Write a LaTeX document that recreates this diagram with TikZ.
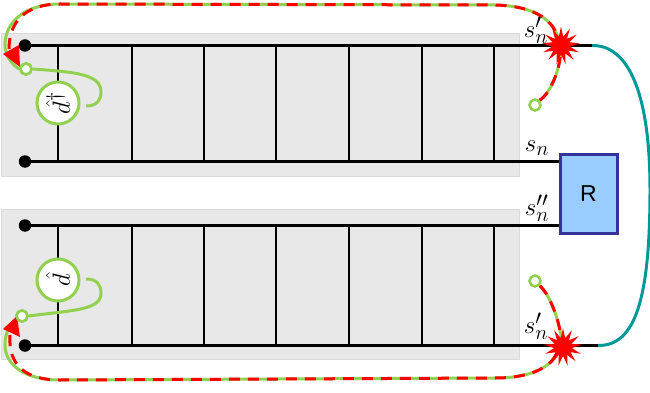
\documentclass[tikz,border=0pt]{standalone}
\usepackage{fontspec}
\usetikzlibrary{shapes.geometric}
\newfontfamily\rfont{Liberation Sans}
\definecolor{panelgray}{HTML}{E8E8E8}
\definecolor{panelline}{HTML}{DADADA}
\definecolor{lgreen}{HTML}{92D050}
\definecolor{rteal}{HTML}{009999}
\definecolor{rfill}{HTML}{99CCFF}
\definecolor{rline}{HTML}{333399}
\tikzset{
  x=1pt,y=-1pt,
  panel/.style={fill=panelgray,draw=panelline,line width=1pt},
  rail/.style={line width=2.7pt,black},
  dotend/.style={circle,fill=black,inner sep=0pt,minimum size=12.5pt},
  opcircle/.style={circle,draw=lgreen,fill=white,line width=3pt,minimum size=42pt,inner sep=0pt},
  smallring/.style={circle,draw=lgreen,fill=white,line width=2.6pt,minimum size=11pt,inner sep=0pt},
  gline/.style={draw=lgreen,line width=3pt},
  rdash/.style={draw=red,line width=3pt,dash pattern=on 11pt off 8pt},
  burst/.style={star,star points=13,star point ratio=2.1,fill=red,draw=none,minimum size=38pt,inner sep=0pt},
  slabel/.style={inner sep=0pt,font=\fontsize{24.88}{28}\selectfont},
  tealline/.style={draw=rteal,line width=3pt},
  redtip/.style={fill=red,draw=none}
}
\begin{document}
\begin{tikzpicture}
\useasboundingbox (0,0) rectangle (650,393);
\draw[panel] (1.5,33.5) rectangle (519.5,176.5);
\draw[panel] (1.5,209.5) rectangle (519.5,359.5);
\node[dotend] (a1) at (25,45.5) {};
\node[dotend] (a2) at (25,161.5) {};
\node[dotend] (b1) at (25,225.5) {};
\node[dotend] (b2) at (25,345.5) {};
\coordinate (a1e) at (592,45.5);
\coordinate (b2e) at (598,345.5);
\node[draw=rline,fill=rfill,line width=3pt,minimum width=57pt,minimum height=79pt,inner sep=0pt,font=\rfont\fontsize{23}{26}\selectfont] (R) at (588.5,193.5) {R};
\draw[rail] (a1.center) -- (a1e);
\draw[rail] (a2.center) -- (a2.center -| R.west);
\draw[rail] (b1.center) -- (b1.center -| R.west);
\draw[rail] (b2.center) -- (b2e);
\foreach \x in {58,132,204,276,349,422,494}{
  \draw[rail] (\x,45.5) -- (\x,161.5);
  \draw[rail] (\x,225.5) -- (\x,345.5);
}
\draw[tealline] (a1e) .. controls (625,45) and (650,85) .. (650,190)
  .. controls (650,300) and (635,346) .. (b2e);
\node[opcircle] (dtop) at (58,103) {\rotatebox{90}{\fontsize{24.88}{28}\selectfont$\hat d^{\dagger}$}};
\node[opcircle] (dbot) at (58,280) {\rotatebox{90}{\fontsize{24.88}{28}\selectfont$\hat d$}};
\node[smallring] (rt) at (26,69) {};
\node[smallring] (rb) at (22,316) {};
\node[smallring] (ru) at (535,105) {};
\node[smallring] (rl) at (535,281) {};
\coordinate (outt) at (86,106);
\coordinate (outb) at (86,279);
\draw[gline] (outt) .. controls (97,106) and (101,100) .. (101,92)
  .. controls (101,74) and (75,72) .. (rt.east);
\draw[gline] (outb) .. controls (97,279) and (101,285) .. (101,293)
  .. controls (101,310) and (75,310) .. (rb.east);
\draw[gline] (ru.north east) .. controls (552,92) and (563,62) .. (560,45)
  .. controls (556,20) and (535,6) .. (495,5) -- (60,4)
  .. controls (25,4) and (5,22) .. (5,45) .. controls (5,55) and (12,65) .. (rt.west);
\draw[gline] (rl.south east) .. controls (552,297) and (560,325) .. (562,342)
  .. controls (556,368) and (530,378) .. (495,378) -- (60,380)
  .. controls (25,380) and (5,365) .. (5,345) .. controls (5,335) and (8,325) .. (rb.south west);
\draw[rdash] (ru.north east) .. controls (552,92) and (563,62) .. (560,45)
  .. controls (556,20) and (535,6) .. (495,5) -- (60,4)
  .. controls (25,4) and (8,22) .. (9,52);
\draw[rdash] (rl.south east) .. controls (552,297) and (560,325) .. (562,342)
  .. controls (556,368) and (530,378) .. (495,378) -- (60,380)
  .. controls (25,380) and (8,365) .. (10,335);
\fill[redtip] (3,54) -- (19,45) -- (20,67) -- cycle;
\fill[redtip] (3,329) -- (17,316) -- (20,337) -- cycle;
\node[smallring] at (rb) {};
\node[smallring] at (rt) {};
\node[burst] (s1) at (561,45.5) {};
\node[burst] (s2) at (563,347) {};
\node[slabel] (l1) at (536,30) {$s_n'$};
\node[slabel] (l2) at (537,148) {$s_n$};
\node[slabel] (l3) at (537,208) {$s_n''$};
\node[slabel] (l4) at (536,326) {$s_n'$};
\end{tikzpicture}
\end{document}
